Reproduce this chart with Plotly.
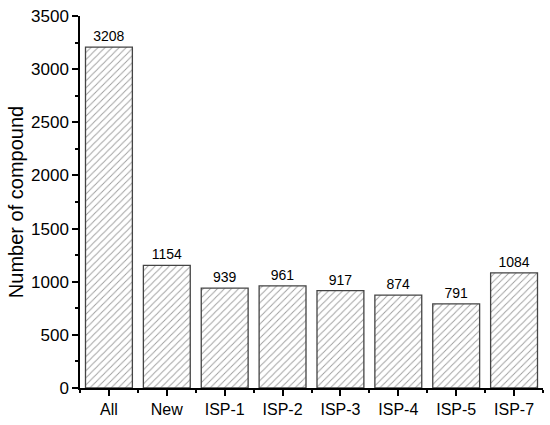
import plotly.graph_objects as go

categories = ["All", "New", "ISP-1", "ISP-2", "ISP-3", "ISP-4", "ISP-5", "ISP-7"]
values = [3208, 1154, 939, 961, 917, 874, 791, 1084]
y_ticks = [0, 500, 1000, 1500, 2000, 2500, 3000, 3500]

positions = list(range(len(categories)))

fig = go.Figure()
fig.add_trace(go.Bar(
    x=positions,
    y=values,
    width=0.81,
    text=[str(v) for v in values],
    textposition="outside",
    textfont=dict(size=14, color="black", family="Liberation Sans, Arial"),
    cliponaxis=False,
    marker=dict(
        color="white",
        line=dict(color="#444444", width=1.3),
        pattern=dict(shape="/", fgcolor="#3a3a3a", bgcolor="white", size=5, solidity=0.18),
    ),
))

fig.update_layout(
    width=550, height=425,
    margin=dict(l=80, r=7, t=16, b=37),
    paper_bgcolor="white", plot_bgcolor="white",
    font=dict(family="Liberation Sans, Arial", color="black"),
    showlegend=False,
)
fig.update_xaxes(
    range=[-0.5, len(categories) - 0.5],
    tickmode="array", tickvals=positions, ticktext=categories,
    ticks="outside", ticklen=6, tickwidth=1.5, tickcolor="black",
    showline=True, linecolor="black", linewidth=1.5,
    showgrid=False, zeroline=False,
    tickfont=dict(size=16),
    minor=dict(tickmode="linear", tick0=0.5, dtick=1, ticks="outside", ticklen=3, tickwidth=1.5, tickcolor="black", showgrid=False),
)
fig.update_yaxes(
    range=[0, 3500],
    tickmode="array", tickvals=y_ticks,
    ticks="outside", ticklen=6, tickwidth=1.5, tickcolor="black",
    showline=True, linecolor="black", linewidth=1.5,
    showgrid=False, zeroline=False,
    tickfont=dict(size=17),
    title=dict(text="Number of compound", font=dict(size=20), standoff=2),
    minor=dict(tickmode="linear", tick0=250, dtick=500, ticks="outside", ticklen=3, tickwidth=1.5, tickcolor="black", showgrid=False),
)

fig.write_html("out.html", config={"displayModeBar": False},
               post_script="document.body.style.margin='0';")
